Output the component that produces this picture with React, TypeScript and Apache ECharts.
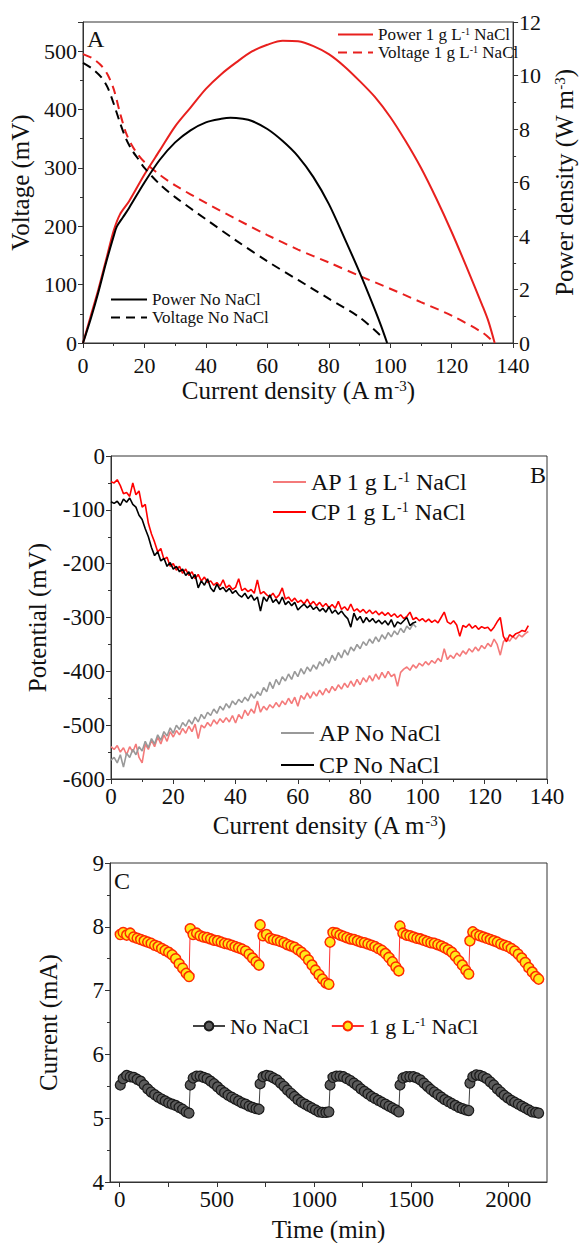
import React, { useEffect, useRef } from 'react';
import * as echarts from 'echarts';

const FONT = 'Liberation Serif';

// ---------- Panel A ----------
const A_X_POW_SALT = [0, 2.5, 5, 7.5, 10, 12, 15, 20, 25, 30, 35, 40, 45, 50, 55, 60, 65, 70, 75, 80, 85, 90, 95, 100, 105, 110, 115, 120, 125, 130, 132, 134];
const A_POW_SALT = [0, 1.0, 2.0, 3.1, 4.2, 4.8, 5.3, 6.3, 7.2, 8.1, 8.8, 9.5, 10.05, 10.5, 10.9, 11.15, 11.3, 11.28, 11.1, 10.8, 10.35, 9.8, 9.2, 8.45, 7.55, 6.55, 5.4, 4.15, 2.8, 1.4, 0.8, 0];
const A_X_POW_NO = [0, 2.5, 5, 7.5, 10, 11, 13, 15, 20, 25, 30, 35, 40, 45, 48, 52, 55, 60, 65, 70, 75, 80, 85, 90, 95, 97, 99];
const A_POW_NO = [0, 0.9, 1.9, 3.0, 4.0, 4.35, 4.7, 5.05, 6.0, 6.85, 7.5, 7.95, 8.25, 8.38, 8.42, 8.38, 8.3, 8.0, 7.55, 6.98, 6.2, 5.2, 3.95, 2.65, 1.25, 0.65, 0];
const A_X_V_SALT = [0, 3, 6, 8, 10, 12, 14, 16, 18, 20, 25, 30, 40, 50, 60, 70, 80, 90, 100, 110, 120, 130, 133];
const A_V_SALT = [495, 488, 475, 460, 435, 395, 360, 338, 322, 310, 288, 270, 240, 212, 185, 160, 138, 115, 93, 70, 47, 18, 5];
const A_X_V_NO = [0, 3, 6, 8, 10, 12, 14, 16, 18, 20, 25, 30, 40, 50, 60, 70, 80, 90, 97];
const A_V_NO = [480, 470, 455, 438, 410, 378, 350, 330, 315, 300, 272, 250, 212, 175, 140, 108, 76, 44, 12];

// ---------- Panel B (current density step 1 A m-3, starting at 0) ----------
const B_STEP = 1;
const B_CP_SALT = [
  -48, -50, -44, -55, -70, -68, -75, -50, -72, -65,
  -95, -90, -125, -145, -160, -178, -172, -192, -188, -205,
  -200, -212, -205, -218, -210, -222, -215, -228, -220, -232,
  -225, -235, -232, -240, -235, -242, -230, -245, -240, -248,
  -244, -228, -250, -246, -252, -248, -255, -230, -256, -252,
  -258, -262, -255, -264, -258, -245, -266, -262, -270, -264,
  -272, -268, -275, -266, -276, -270, -278, -272, -280, -274,
  -282, -276, -283, -270, -285, -280, -287, -275, -288, -284,
  -290, -285, -292, -286, -293, -288, -295, -290, -296, -291,
  -298, -293, -300, -295, -302, -298, -290, -304, -300, -306,
  -302, -308, -303, -309, -305, -310, -300, -290, -308, -312,
  -306, -314, -335, -315, -318, -312, -320, -315, -322, -317,
  -320, -318, -325, -318, -308, -300, -335, -345, -332, -336,
  -330, -328, -324, -326, -315,
];
const B_CP_NO = [
  -85, -88, -84, -92, -80, -86, -78, -90, -95, -110,
  -118, -135, -150, -170, -185, -178, -195, -190, -205, -198,
  -210, -205, -215, -210, -222, -215, -228, -220, -245, -232,
  -240, -228, -245, -252, -238, -248, -244, -252, -246, -255,
  -250, -258, -262, -255, -265, -258, -268, -262, -288, -262,
  -270, -258, -272, -266, -275, -262, -276, -270, -278, -272,
  -286, -280, -275, -282, -277, -285, -280, -288, -283, -290,
  -280, -292, -286, -294, -288, -296, -302, -318, -292, -305,
  -298, -310, -300, -308, -302, -310, -305, -312, -306, -314,
  -304, -318, -308, -312, -306, -300, -315, -310, -308,
];
const B_AP_NO = [
  -565, -560, -570, -555, -578, -552, -560, -545, -555, -540,
  -548, -530, -542, -525, -535, -518, -528, -512, -520, -505,
  -515, -500, -508, -495, -502, -490, -498, -485, -494, -480,
  -488, -476, -482, -470, -478, -465, -472, -460, -468, -455,
  -462, -452, -458, -448, -455, -442, -450, -438, -445, -430,
  -438, -420, -432, -415, -425, -410, -418, -405, -415, -400,
  -410, -395, -405, -392, -400, -388, -396, -382, -390, -376,
  -385, -370, -380, -365, -375, -360, -370, -355, -362, -350,
  -358, -345, -352, -340, -348, -336, -345, -332, -340, -328,
  -336, -325, -332, -320, -328, -316, -322, -312, -318,
];
const B_AP_SALT = [
  -540, -545, -538, -550, -542, -555, -540, -550, -535, -560,
  -570, -535, -545, -528, -540, -522, -535, -518, -530, -512,
  -522, -510, -518, -506, -515, -502, -512, -498, -525, -500,
  -505, -495, -502, -490, -498, -488, -495, -486, -494, -482,
  -496, -480, -488, -472, -482, -470, -478, -455, -476, -465,
  -472, -462, -468, -458, -466, -455, -462, -450, -460, -448,
  -465, -445, -452, -440, -450, -438, -446, -435, -444, -432,
  -440, -428, -436, -425, -433, -422, -430, -418, -428, -415,
  -425, -412, -420, -408, -418, -405, -415, -402, -412, -400,
  -410, -405, -428, -402, -396, -392, -398, -388, -394, -385,
  -390, -382, -388, -380, -385, -376, -382, -358, -378, -370,
  -376, -366, -372, -362, -368, -358, -364, -355, -362, -352,
  -358, -348, -354, -340, -350, -370, -345, -338, -344, -335,
  -340, -332, -336, -330, -326,
];

// ---------- Panel C ----------
const C_CYCLE_STARTS = [0, 360, 720, 1080, 1440, 1800];
const C_OFFSETS = [3, 18, 36, 54, 72, 90, 108, 126, 144, 162, 180, 198, 216, 234, 252, 270, 288, 306, 324, 342, 357];
const C_NO_NACL = [
  [5.52, 5.62, 5.67, 5.65, 5.64, 5.61, 5.58, 5.52, 5.46, 5.41, 5.37, 5.33, 5.30, 5.27, 5.24, 5.22, 5.20, 5.17, 5.14, 5.10, 5.08],
  [5.52, 5.63, 5.66, 5.66, 5.64, 5.62, 5.58, 5.54, 5.49, 5.44, 5.40, 5.36, 5.33, 5.30, 5.27, 5.24, 5.22, 5.19, 5.17, 5.15, 5.14],
  [5.54, 5.65, 5.67, 5.66, 5.63, 5.60, 5.55, 5.50, 5.44, 5.39, 5.34, 5.29, 5.25, 5.22, 5.19, 5.16, 5.13, 5.10, 5.09, 5.09, 5.10],
  [5.52, 5.64, 5.66, 5.66, 5.65, 5.62, 5.59, 5.55, 5.51, 5.46, 5.42, 5.38, 5.34, 5.31, 5.28, 5.25, 5.22, 5.19, 5.16, 5.13, 5.10],
  [5.52, 5.63, 5.65, 5.65, 5.65, 5.63, 5.60, 5.55, 5.50, 5.45, 5.41, 5.37, 5.33, 5.29, 5.26, 5.23, 5.20, 5.17, 5.15, 5.13, 5.12],
  [5.55, 5.65, 5.68, 5.67, 5.65, 5.62, 5.57, 5.52, 5.46, 5.41, 5.36, 5.32, 5.28, 5.25, 5.22, 5.19, 5.16, 5.13, 5.10, 5.09, 5.08],
];
const C_SALT = [
  [7.88, 7.91, 7.87, 7.90, 7.84, 7.82, 7.80, 7.78, 7.76, 7.74, 7.71, 7.69, 7.66, 7.63, 7.60, 7.56, 7.50, 7.42, 7.35, 7.27, 7.22],
  [7.97, 7.88, 7.90, 7.86, 7.84, 7.83, 7.81, 7.79, 7.78, 7.76, 7.74, 7.73, 7.71, 7.69, 7.67, 7.65, 7.62, 7.57, 7.51, 7.45, 7.40],
  [8.03, 7.86, 7.88, 7.82, 7.80, 7.79, 7.77, 7.75, 7.72, 7.70, 7.68, 7.64, 7.60, 7.55, 7.48, 7.40, 7.32, 7.25, 7.18, 7.12, 7.10],
  [7.76, 7.91, 7.90, 7.87, 7.85, 7.83, 7.81, 7.80, 7.78, 7.76, 7.75, 7.73, 7.71, 7.69, 7.66, 7.63, 7.58, 7.52, 7.45, 7.37, 7.31],
  [8.01, 7.90, 7.87, 7.86, 7.84, 7.82, 7.81, 7.79, 7.77, 7.75, 7.74, 7.72, 7.70, 7.67, 7.64, 7.60, 7.54, 7.47, 7.40, 7.32, 7.26],
  [7.78, 7.92, 7.88, 7.86, 7.84, 7.82, 7.80, 7.78, 7.76, 7.73, 7.71, 7.69, 7.66, 7.62, 7.57, 7.51, 7.44, 7.36, 7.29, 7.22, 7.18],
];
const C_X_LABELS = [0, 500, 1000, 1500, 2000];
const C_X_TICKS = [0, 250, 500, 750, 1000, 1250, 1500, 1750, 2000];

const pairs = (xs: number[], ys: number[]) => xs.map((x, i) => [x, ys[i]]);
const stepPairs = (ys: number[]) => ys.map((y, i) => [i * B_STEP, y]);
const cyclePairs = (cycles: number[][]) => {
  const out: number[][] = [];
  cycles.forEach((vals, c) => vals.forEach((v, j) => out.push([C_CYCLE_STARTS[c] + C_OFFSETS[j], v])));
  return out;
};

const INK = '#111';
const plain = (v: number) => String(v);
const axisBase = {
  nameLocation: 'middle',
  axisLine: { show: true, onZero: false, lineStyle: { color: '#333', width: 1 } },
  axisTick: { show: true, length: 5, lineStyle: { color: '#333' } },
  minorTick: { show: true, splitNumber: 2, length: 3, lineStyle: { color: '#333' } },
  splitLine: { show: false },
  minorSplitLine: { show: false },
  axisLabel: { color: INK, fontSize: 23, fontFamily: FONT, margin: 6, formatter: plain },
  nameTextStyle: { color: INK, fontSize: 25, fontFamily: FONT, rich: { s: { fontSize: 15, fontFamily: FONT, color: INK, verticalAlign: 'top' } } },
};

const supFmt = (name: string) => name.replace('L-1', 'L{s|-1}');
const legendText = (size: number) => ({
  color: INK,
  fontSize: size,
  fontFamily: FONT,
  rich: { s: { fontSize: Math.round(size * 0.6), fontFamily: FONT, color: INK, verticalAlign: 'top' } },
});
const noMarker = { color: 'rgba(0,0,0,0)', borderWidth: 0, opacity: 0 };

const RED = '#e8201e';

const option: any = {
  animation: false,
  backgroundColor: '#fff',
  textStyle: { fontFamily: FONT },
  grid: [
    { left: 83, top: 22, width: 440, height: 321, show: true, borderColor: '#333', borderWidth: 1, backgroundColor: 'transparent' },
    { left: 111, top: 456, width: 436, height: 323, show: true, borderColor: '#333', borderWidth: 1, backgroundColor: 'transparent' },
    { left: 110, top: 863, width: 437, height: 321, show: true, borderColor: '#333', borderWidth: 1, backgroundColor: 'transparent' },
  ],
  xAxis: [
    { ...axisBase, type: 'value', gridIndex: 0, min: 0, max: 140, interval: 20, name: 'Current density (A m{s|-3})', nameGap: 35, axisLabel: { ...axisBase.axisLabel, fontSize: 22, margin: 13, lineHeight: 18 } },
    { ...axisBase, type: 'value', gridIndex: 1, min: 0, max: 140, interval: 20, name: 'Current density (A m{s|-3})', nameGap: 34 },
    {
      ...axisBase, type: 'value', gridIndex: 2, min: -50, max: 2200, name: 'Time (min)', nameGap: 35,
      axisTick: { ...axisBase.axisTick, customValues: C_X_TICKS },
      minorTick: { show: false },
      axisLabel: { ...axisBase.axisLabel, customValues: C_X_LABELS },
    },
  ],
  yAxis: [
    { ...axisBase, type: 'value', gridIndex: 0, min: 0, max: 550, interval: 100, name: 'Voltage (mV)', nameGap: 48, nameRotate: 90, axisLabel: { ...axisBase.axisLabel, fontSize: 22, showMaxLabel: false } },
    { ...axisBase, type: 'value', gridIndex: 0, position: 'right', min: 0, max: 12, interval: 2, name: 'Power density (W m{s|-3})', nameGap: 36, nameRotate: 90, axisLabel: { ...axisBase.axisLabel, fontSize: 22 } },
    { ...axisBase, type: 'value', gridIndex: 1, min: -600, max: 0, interval: 100, name: 'Potential (mV)', nameGap: 61, nameRotate: 90 },
    { ...axisBase, type: 'value', gridIndex: 2, min: 4, max: 9, interval: 1, name: 'Current (mA)', nameGap: 49, nameRotate: 90 },
  ],
  legend: [
    {
      left: 337, top: 26, orient: 'vertical', itemWidth: 35, itemHeight: 10, itemGap: 1, padding: 0, selectedMode: false,
      itemStyle: noMarker,
      data: ['Power 1 g L-1 NaCl', 'Voltage 1 g L-1 NaCl'], formatter: supFmt, textStyle: legendText(17),
    },
    {
      left: 110, top: 291, orient: 'vertical', itemWidth: 36, itemHeight: 10, itemGap: 1, padding: 0, selectedMode: false,
      itemStyle: noMarker,
      data: ['Power No NaCl', 'Voltage No NaCl'], textStyle: legendText(17),
    },
    {
      left: 272, top: 470, orient: 'vertical', itemWidth: 33, itemHeight: 10, itemGap: 6, padding: 0, selectedMode: false,
      itemStyle: noMarker,
      data: ['AP 1 g L-1 NaCl', 'CP 1 g L-1 NaCl'], formatter: supFmt, textStyle: legendText(24),
    },
    {
      left: 280, top: 721, orient: 'vertical', itemWidth: 33, itemHeight: 10, itemGap: 8, padding: 0, selectedMode: false,
      itemStyle: noMarker,
      data: ['AP No NaCl', 'CP No NaCl'], textStyle: legendText(24),
    },
    {
      left: 192, top: 1015, orient: 'horizontal', itemWidth: 32, itemHeight: 11, itemGap: 22, padding: 0, selectedMode: false,
      data: ['No NaCl', '1 g L-1 NaCl'], formatter: supFmt, textStyle: legendText(22),
    },
  ],
  graphic: [
    { type: 'text', left: 87, top: 27, style: { text: 'A', fontSize: 24, fontFamily: FONT, fill: INK } },
    { type: 'text', left: 530, top: 463, style: { text: 'B', fontSize: 24, fontFamily: FONT, fill: INK } },
    { type: 'text', left: 114, top: 869, style: { text: 'C', fontSize: 24, fontFamily: FONT, fill: INK } },
  ],
  series: [
    // Panel A
    { name: 'Power 1 g L-1 NaCl', type: 'line', xAxisIndex: 0, yAxisIndex: 1, symbol: 'none', smooth: 0.3, data: pairs(A_X_POW_SALT, A_POW_SALT), lineStyle: { color: RED, width: 2 }, itemStyle: { color: RED } },
    { name: 'Voltage 1 g L-1 NaCl', type: 'line', xAxisIndex: 0, yAxisIndex: 0, symbol: 'none', smooth: 0.3, data: pairs(A_X_V_SALT, A_V_SALT), lineStyle: { color: RED, width: 2, type: [9, 6] }, itemStyle: { color: RED } },
    { name: 'Power No NaCl', type: 'line', xAxisIndex: 0, yAxisIndex: 1, symbol: 'none', smooth: 0.3, data: pairs(A_X_POW_NO, A_POW_NO), lineStyle: { color: '#000', width: 2 }, itemStyle: { color: '#000' } },
    { name: 'Voltage No NaCl', type: 'line', xAxisIndex: 0, yAxisIndex: 0, symbol: 'none', smooth: 0.3, data: pairs(A_X_V_NO, A_V_NO), lineStyle: { color: '#000', width: 2, type: [9, 6] }, itemStyle: { color: '#000' } },
    // Panel B
    { name: 'AP 1 g L-1 NaCl', type: 'line', xAxisIndex: 1, yAxisIndex: 2, symbol: 'none', data: stepPairs(B_AP_SALT), lineStyle: { color: '#f47a7a', width: 1.6 }, itemStyle: { color: '#f47a7a' } },
    { name: 'CP 1 g L-1 NaCl', type: 'line', xAxisIndex: 1, yAxisIndex: 2, symbol: 'none', data: stepPairs(B_CP_SALT), lineStyle: { color: '#ff0000', width: 1.6 }, itemStyle: { color: '#ff0000' } },
    { name: 'AP No NaCl', type: 'line', xAxisIndex: 1, yAxisIndex: 2, symbol: 'none', data: stepPairs(B_AP_NO), lineStyle: { color: '#999999', width: 1.6 }, itemStyle: { color: '#999999' } },
    { name: 'CP No NaCl', type: 'line', xAxisIndex: 1, yAxisIndex: 2, symbol: 'none', data: stepPairs(B_CP_NO), lineStyle: { color: '#000', width: 1.6 }, itemStyle: { color: '#000' } },
    // Panel C
    {
      name: 'No NaCl', type: 'line', xAxisIndex: 2, yAxisIndex: 3, symbol: 'circle', symbolSize: 10, data: cyclePairs(C_NO_NACL),
      lineStyle: { color: '#444', width: 1 }, itemStyle: { color: '#5c5c5c', borderColor: '#1a1a1a', borderWidth: 1.2 },
    },
    {
      name: '1 g L-1 NaCl', type: 'line', xAxisIndex: 2, yAxisIndex: 3, symbol: 'circle', symbolSize: 10, data: cyclePairs(C_SALT),
      lineStyle: { color: '#ff3030', width: 1 }, itemStyle: { color: '#ffe81a', borderColor: '#ff2a00', borderWidth: 1.5 },
    },
  ],
};

export default function App() {
  const ref = useRef<HTMLDivElement>(null);
  useEffect(() => {
    const chart = echarts.init(ref.current!, null, { renderer: 'svg' });
    chart.setOption(option);
    return () => chart.dispose();
  }, []);
  return <div ref={ref} style={{ position: 'absolute', left: 0, top: 0, width: 585, height: 1243, background: '#fff' }} />;
}
